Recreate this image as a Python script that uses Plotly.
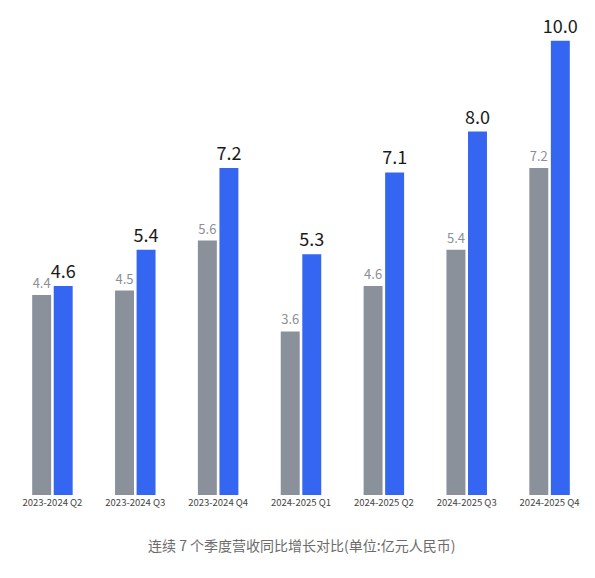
import plotly.graph_objects as go

quarters = ["2023-2024 Q2", "2023-2024 Q3", "2023-2024 Q4", "2024-2025 Q1",
            "2024-2025 Q2", "2024-2025 Q3", "2024-2025 Q4"]
last_year = [4.4, 4.5, 5.6, 3.6, 4.6, 5.4, 7.2]
this_year = [4.6, 5.4, 7.2, 5.3, 7.1, 8.0, 10.0]

font = "Noto Sans CJK SC"

fig = go.Figure()
fig.add_trace(go.Bar(
    x=quarters, y=last_year, marker=dict(color="#8b919b", line_width=0),
    text=[f"{v:.1f}" for v in last_year], textposition="outside", constraintext="none",
    textfont=dict(size=13, color="#8a8f98", family=font), cliponaxis=False,
))
fig.add_trace(go.Bar(
    x=quarters, y=this_year, marker=dict(color="#3466f2", line_width=0),
    text=[f"{v:.1f}" for v in this_year], textposition="outside", constraintext="none",
    textfont=dict(size=18, color="#1a1a1a", family=font), cliponaxis=False,
))
fig.update_layout(
    width=595, height=578, showlegend=False,
    plot_bgcolor="white", paper_bgcolor="white",
    margin=dict(l=3, r=12, t=10, b=91),
    bargap=0.48, bargroupgap=0.12,
    font=dict(family=font),
    xaxis=dict(showline=False, showgrid=False, ticks="",
               tickfont=dict(size=9.5, color="#444")),
    yaxis=dict(visible=False, range=[0, 10.5]),
    annotations=[dict(text="连续 7 个季度营收同比增长对比(单位:亿元人民币)",
                      xref="paper", yref="paper", x=0.5, y=-0.13,
                      showarrow=False, font=dict(size=14, color="#6b6b6b"))],
)
fig.write_html("out.html")
